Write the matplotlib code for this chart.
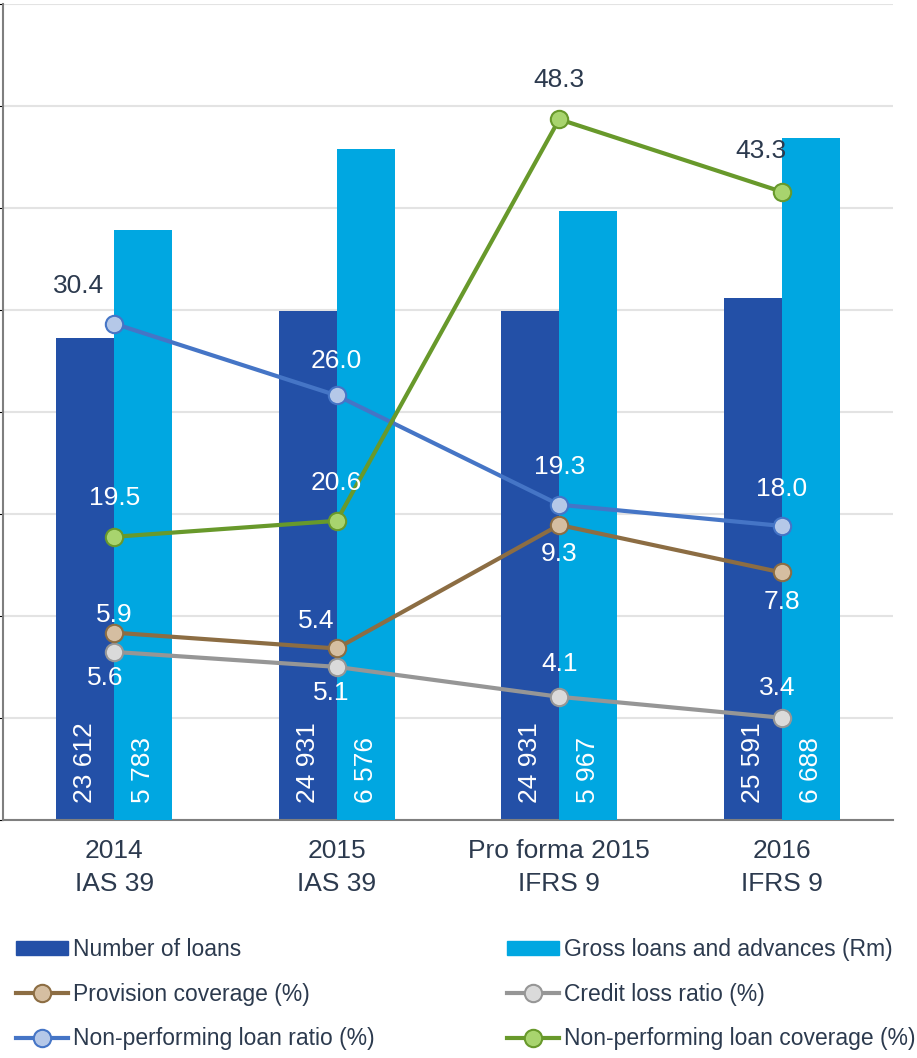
import numpy as np
import matplotlib
matplotlib.use('Agg')
import matplotlib.pyplot as plt
from matplotlib.patches import Patch
from matplotlib.lines import Line2D

plt.rcParams['font.family'] = ['Liberation Sans', 'DejaVu Sans']

categories = ['2014\nIAS 39', '2015\nIAS 39', 'Pro forma 2015\nIFRS 9', '2016\nIFRS 9']
num_loans = [23612, 24931, 24931, 25591]
gross_loans = [5783, 6576, 5967, 6688]
provision_cov = [5.9, 5.4, 9.3, 7.8]
credit_loss = [5.6, 5.1, 4.1, 3.4]
npl_ratio = [30.4, 26.0, 19.3, 18.0]
npl_cov = [19.5, 20.6, 48.3, 43.3]

dark_blue = '#2350a7'
light_blue = '#00a7e1'
text_dark = '#2c3a4e'
fs = 19

fig = plt.figure(figsize=(9.17, 10.58), dpi=100)
ax = fig.add_axes([3/917, 1 - 819.5/1058, 890/917, 815.5/1058])

x = np.arange(len(categories))
w = 0.26

ax.bar(x - w/2, num_loans, w, color=dark_blue, zorder=2)
ax.set_ylim(0, 40000)
ax.set_xlim(-0.5, 3.5)
ax.set_yticks(np.arange(0, 40001, 5000))
ax.grid(axis='y', color='#e3e3e3', linewidth=1.5, zorder=0)
ax.set_axisbelow(True)
ax.tick_params(axis='y', left=False, labelleft=False)
ax.tick_params(axis='x', length=0, pad=14, labelsize=fs, labelcolor=text_dark)
ax.set_xticks(x)
ax.set_xticklabels(categories, linespacing=1.5)
for s in ['top', 'right']:
    ax.spines[s].set_visible(False)
for s in ['left', 'bottom']:
    ax.spines[s].set_color('#7f7f7f')
    ax.spines[s].set_linewidth(1.5)


def twin(lim):
    t = ax.twinx()
    t.set_ylim(0, lim)
    t.set_xlim(-0.5, 3.5)
    t.axis('off')
    return t


ax_gross = twin(8000)
ax_gross.bar(x + w/2, gross_loans, w, color=light_blue, zorder=2)

# each percentage series sits on its own hidden scale
series = [
    (credit_loss, 27.25, '#969696', '#dadada', 'Credit loss ratio (%)'),
    (provision_cov, 25.75, '#8c6d43', '#d5bea1', 'Provision coverage (%)'),
    (npl_ratio, 50, '#4575c6', '#b5c8e8', 'Non-performing loan ratio (%)'),
    (npl_cov, 56.25, '#68992b', '#a8d46e', 'Non-performing loan coverage (%)'),
]
line_axes = {}
for vals, lim, lc, fc, name in series:
    t = twin(lim)
    t.plot(x, vals, color=lc, linewidth=3, marker='o', markersize=12.5,
           markerfacecolor=fc, markeredgecolor=lc, markeredgewidth=1.5)
    line_axes[name] = t

top = line_axes['Non-performing loan coverage (%)']

# label offsets in pixels (dx, dy) and text colour
labels = {
    'Non-performing loan ratio (%)': (npl_ratio, [(-36, 38), (0, 34), (0, 38), (0, 37)],
                                      [text_dark, 'white', 'white', 'white']),
    'Non-performing loan coverage (%)': (npl_cov, [(0, 39), (0, 38), (0, 39), (-21, 41)],
                                         ['white', 'white', text_dark, text_dark]),
    'Provision coverage (%)': (provision_cov, [(0, 18), (-21, 27), (0, -29), (0, -30)],
                               ['white'] * 4),
    'Credit loss ratio (%)': (credit_loss, [(-9, -26), (-6, -26), (0, 33), (-5, 30)],
                              ['white'] * 4),
}
for name, (vals, offs, cols) in labels.items():
    src = line_axes[name]
    for i, v in enumerate(vals):
        top.annotate(f'{v:.1f}', xy=(x[i], v), xycoords=src.transData,
                     xytext=offs[i], textcoords='offset pixels',
                     ha='center', va='center', fontsize=fs, color=cols[i],
                     zorder=10, annotation_clip=False)

# values written inside the bars
for i in range(len(x)):
    top.annotate(f'{num_loans[i]:,}'.replace(',', ' '), xy=(x[i] - w/2, 0),
                 xycoords=ax.transData, xytext=(0, 16), textcoords='offset pixels',
                 rotation=90, ha='center', va='bottom', fontsize=fs, color='white',
                 zorder=10, annotation_clip=False)
    top.annotate(f'{gross_loans[i]:,}'.replace(',', ' '), xy=(x[i] + w/2, 0),
                 xycoords=ax_gross.transData, xytext=(0, 16), textcoords='offset pixels',
                 rotation=90, ha='center', va='bottom', fontsize=fs, color='white',
                 zorder=10, annotation_clip=False)


def line_handle(lc, fc):
    return Line2D([], [], color=lc, linewidth=3, marker='o', markersize=12.5,
                  markerfacecolor=fc, markeredgecolor=lc, markeredgewidth=1.5)


left_items = [
    (Patch(color=dark_blue), 'Number of loans'),
    (line_handle('#8c6d43', '#d5bea1'), 'Provision coverage (%)'),
    (line_handle('#4575c6', '#b5c8e8'), 'Non-performing loan ratio (%)'),
]
right_items = [
    (Patch(color=light_blue), 'Gross loans and advances (Rm)'),
    (line_handle('#969696', '#dadada'), 'Credit loss ratio (%)'),
    (line_handle('#68992b', '#a8d46e'), 'Non-performing loan coverage (%)'),
]
for items, x0 in [(left_items, 16), (right_items, 507)]:
    leg = fig.legend([h for h, _ in items], [n for _, n in items], loc='center left',
                     bbox_to_anchor=(x0/917, 1 - 994/1058), frameon=False,
                     fontsize=16.5, handlelength=2.27, handleheight=0.57,
                     handletextpad=0.22, labelspacing=0.95,
                     borderaxespad=0, borderpad=0)
    for t in leg.get_texts():
        t.set_color(text_dark)

fig.savefig('out.png', dpi=100)
